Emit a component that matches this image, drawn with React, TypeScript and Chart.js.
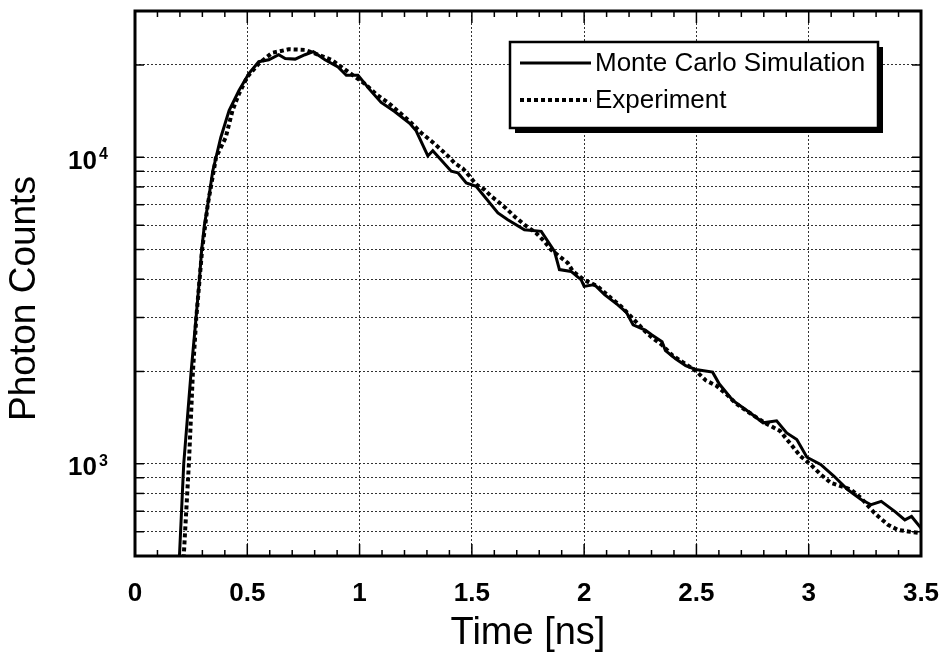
import React, { useEffect, useRef } from "react";
import { Chart, registerables } from "chart.js";

Chart.register(...registerables);

// Monte Carlo simulation (solid line)
const MC_T = [
  0.185, 0.198, 0.217, 0.25, 0.272, 0.287, 0.297, 0.309, 0.324, 0.346, 0.361,
  0.382, 0.419, 0.463, 0.507, 0.551, 0.596, 0.64, 0.669, 0.713, 0.757, 0.794,
  0.846, 0.904, 0.941, 0.993, 1.052, 1.096, 1.156, 1.223, 1.252, 1.304, 1.326,
  1.408, 1.438, 1.475, 1.519, 1.616, 1.66, 1.734, 1.809, 1.868, 1.89, 1.942,
  1.987, 2.0, 2.046, 2.091, 2.15, 2.188, 2.218, 2.272, 2.302, 2.347, 2.362,
  2.407, 2.452, 2.497, 2.572, 2.602, 2.662, 2.737, 2.797, 2.857, 2.902, 2.947,
  2.992, 3.053, 3.113, 3.173, 3.233, 3.278, 3.323, 3.383, 3.428, 3.458, 3.5,
];
const MC_V = [
  420, 500, 1000, 2000, 3000, 4000, 5000, 6000, 7000, 9000, 10000,
  11600, 14200, 16500, 18750, 20500, 20800, 21600, 21000, 20900, 21600, 22100,
  20800, 19700, 18500, 18500, 16400, 15100, 14100, 12900, 12200, 10100, 10500,
  9000, 8900, 8240, 8040, 6580, 6250, 5800, 5730, 4930, 4300, 4240,
  3980, 3790, 3840, 3560, 3300, 3120, 2840, 2730, 2630, 2500, 2340,
  2200, 2090, 2030, 1990, 1820, 1610, 1470, 1360, 1380, 1260, 1200,
  1050, 995, 910, 824, 764, 735, 754, 699, 656, 673, 617,
];

// Experiment (dotted line)
const EXP_T = [
  0.205, 0.217, 0.24, 0.258, 0.273, 0.299, 0.324, 0.361, 0.404, 0.434, 0.463,
  0.5, 0.551, 0.61, 0.684, 0.757, 0.816, 0.875, 0.949, 1.022, 1.081, 1.126,
  1.223, 1.275, 1.319, 1.356, 1.393, 1.423, 1.46, 1.49, 1.519, 1.556, 1.586,
  1.623, 1.653, 1.69, 1.735, 1.786, 1.823, 1.853, 1.89, 1.927, 1.95, 2.0,
  2.06, 2.12, 2.165, 2.209, 2.268, 2.302, 2.347, 2.392, 2.437, 2.497, 2.542,
  2.587, 2.632, 2.677, 2.752, 2.812, 2.872, 2.932, 2.962, 3.008, 3.053, 3.098,
  3.143, 3.188, 3.233, 3.293, 3.353, 3.398, 3.443, 3.5,
];
const EXP_V = [
  420, 500, 1000, 2000, 3000, 5000, 7000, 10000, 11600, 14200, 16100,
  18300, 20200, 21900, 22500, 22400, 21600, 20800, 19000, 17400, 15900, 15100,
  13100, 12000, 11300, 10700, 10100, 9580, 9180, 8670, 8150, 7840, 7460,
  7100, 6800, 6410, 6020, 5660, 5310, 4990, 4750, 4520, 4240, 3980,
  3790, 3470, 3260, 3020, 2720, 2580, 2440, 2260, 2150, 2010, 1870,
  1800, 1690, 1570, 1440, 1350, 1280, 1130, 1060, 995, 923, 867,
  845, 824, 773, 690, 632, 608, 601, 593,
];

const SERIES_NAMES = ["Monte Carlo Simulation", "Experiment"];
const Y_GRID = [
  500, 600, 700, 800, 900, 1000, 2000, 3000, 4000, 5000, 6000, 7000, 8000,
  9000, 10000, 20000, 30000,
];
const Y_LABEL_VALUES = [1000, 10000];
const Y_LABEL_EXPS = ["3", "4"];
const X_MIN = 0;
const X_MAX = 3.5;
const X_STEP = 0.5;
const X_MINOR_STEP = 0.1;
const Y_MIN = 500;
const Y_MAX = 30000;
const X_TITLE = "Time [ns]";
const Y_TITLE = "Photon Counts";

const FONT = '"Liberation Sans", Arial, Helvetica, sans-serif';

const decorPlugin = {
  id: "decor",
  afterDraw(chart: any) {
    const { ctx, chartArea: a, scales } = chart;
    const xs = scales.x;
    const ys = scales.y;
    ctx.save();
    ctx.strokeStyle = "#000";
    ctx.fillStyle = "#000";
    const line = (x1: number, y1: number, x2: number, y2: number) => {
      ctx.beginPath();
      ctx.moveTo(x1, y1);
      ctx.lineTo(x2, y2);
      ctx.stroke();
    };
    // inward ticks on left/right
    ctx.lineWidth = 1.5;
    ctx.setLineDash([]);
    Y_GRID.forEach((v) => {
      const py = ys.getPixelForValue(v);
      line(a.left, py, a.left + 9, py);
      line(a.right - 9, py, a.right, py);
    });
    // minor ticks top/bottom
    const n = Math.round((X_MAX - X_MIN) / X_MINOR_STEP);
    const per = Math.round(X_STEP / X_MINOR_STEP);
    for (let i = 0; i <= n; i++) {
      const px = xs.getPixelForValue(X_MIN + i * X_MINOR_STEP);
      const len = i % per === 0 ? 12 : 6;
      line(px, a.bottom, px, a.bottom - len);
      line(px, a.top, px, a.top + len);
    }
    // frame
    ctx.lineWidth = 3;
    ctx.strokeRect(a.left, a.top, a.right - a.left, a.bottom - a.top);

    // legend
    const lx = 510, ly = 42, lw = 368, lh = 86;
    ctx.fillStyle = "#000";
    ctx.fillRect(lx + 5, ly + 5, lw, lh);
    ctx.fillStyle = "#fff";
    ctx.fillRect(lx, ly, lw, lh);
    ctx.lineWidth = 2.5;
    ctx.strokeRect(lx, ly, lw, lh);
    const rows = [63, 100];
    chart.data.datasets.forEach((ds: any, i: number) => {
      ctx.save();
      ctx.lineWidth = ds.borderWidth;
      ctx.setLineDash(ds.borderDash || []);
      ctx.lineCap = "butt";
      ctx.strokeStyle = ds.borderColor;
      line(520, rows[i], 591, rows[i]);
      ctx.restore();
      ctx.fillStyle = "#000";
      ctx.font = `26px ${FONT}`;
      ctx.textAlign = "left";
      ctx.textBaseline = "middle";
      ctx.fillText(ds.label, 595, rows[i] + 1);
    });

    // y tick labels with superscripts
    ctx.fillStyle = "#000";
    Y_LABEL_VALUES.forEach((v, i) => {
      const py = ys.getPixelForValue(v);
      ctx.font = `bold 26px ${FONT}`;
      ctx.textAlign = "right";
      ctx.textBaseline = "alphabetic";
      ctx.fillText("10", 97, py + 11.5);
      ctx.font = `bold 16px ${FONT}`;
      ctx.textAlign = "left";
      ctx.fillText(Y_LABEL_EXPS[i], 99, py + 2);
    });

    // y title
    ctx.save();
    ctx.translate(35, (a.top + a.bottom) / 2 + 15);
    ctx.rotate(-Math.PI / 2);
    ctx.font = `37px ${FONT}`;
    ctx.textAlign = "center";
    ctx.textBaseline = "alphabetic";
    ctx.fillText(Y_TITLE, 0, 0);
    ctx.restore();

    ctx.restore();
  },
};

export default function App() {
  const ref = useRef<HTMLCanvasElement | null>(null);
  useEffect(() => {
    document.body.style.margin = "0";
    const canvas = ref.current;
    if (!canvas) return;
    const chart = new Chart(canvas, {
      type: "line",
      data: {
        datasets: [
          {
            label: SERIES_NAMES[0],
            data: MC_T.map((t, i) => ({ x: t, y: MC_V[i] })),
            borderColor: "#000",
            borderWidth: 3,
            pointRadius: 0,
            tension: 0,
            fill: false,
            clip: 0,
          },
          {
            label: SERIES_NAMES[1],
            data: EXP_T.map((t, i) => ({ x: t, y: EXP_V[i] })),
            borderColor: "#000",
            borderWidth: 4,
            borderDash: [4, 3],
            borderCapStyle: "butt",
            pointRadius: 0,
            tension: 0,
            fill: false,
            clip: 0,
          },
        ],
      },
      options: {
        responsive: false,
        animation: false,
        devicePixelRatio: 1,
        layout: { padding: { top: 11, right: 23, bottom: 0, left: 0 } },
        plugins: {
          legend: { display: false },
          tooltip: { enabled: false },
        },
        scales: {
          x: {
            type: "linear",
            min: X_MIN,
            max: X_MAX,
            ticks: {
              stepSize: X_STEP,
              color: "#000",
              font: { family: FONT, size: 26, weight: "bold" },
              padding: 22,
              maxRotation: 0,
              callback: (v: any) => String(Number(v)),
            },
            grid: {
              color: "rgba(0,0,0,0.8)",
              lineWidth: 1,
              drawTicks: false,
            },
            border: { display: false, dash: [2, 2] },
            title: {
              display: true,
              text: X_TITLE,
              color: "#000",
              font: { family: FONT, size: 38, weight: "normal" },
              padding: { top: 0, bottom: 0 },
            },
            afterFit: (s: any) => {
              s.height = 100;
              s.paddingLeft = 0;
              s.paddingRight = 0;
            },
          },
          y: {
            type: "logarithmic",
            min: Y_MIN,
            max: Y_MAX,
            afterBuildTicks: (s: any) => {
              s.ticks = Y_GRID.map((v) => ({ value: v }));
            },
            ticks: { display: false },
            grid: {
              color: "rgba(0,0,0,0.8)",
              lineWidth: 1,
              drawTicks: false,
            },
            border: { display: false, dash: [2, 2] },
            afterFit: (s: any) => {
              s.width = 135;
              s.paddingTop = 0;
              s.paddingBottom = 0;
            },
          },
        },
      },
      plugins: [decorPlugin],
    } as any);
    return () => chart.destroy();
  }, []);
  return (
    <div style={{ width: 944, height: 656, background: "#fff" }}>
      <canvas ref={ref} width={944} height={656} style={{ display: "block" }} />
    </div>
  );
}
